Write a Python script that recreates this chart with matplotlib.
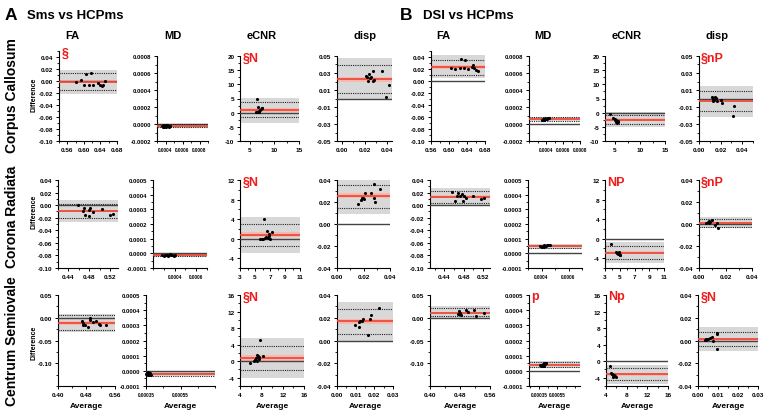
import matplotlib.pyplot as plt
from matplotlib.ticker import FormatStrFormatter, AutoMinorLocator

plt.rcParams['font.family'] = ['Liberation Sans', 'DejaVu Sans']

comparisons = ['Sms vs HCPms', 'DSI vs HCPms']
panel_letters = ['A', 'B']
regions = ['Corpus Callosum', 'Corona Radiata', 'Centrum Semiovale']
metrics = ['FA', 'MD', 'eCNR', 'disp']

# rows = region, cols = metric
bias_a = [[-0.001, -2.0e-5, 1.0, 0.0228],
          [-0.0094, -1.1e-5, 0.77, 0.0256],
          [-0.0119, -2.0e-5, 0.8, 0.0168]]
bias_ci_a = [[0.003, 4e-6, 0.75, 0.003],
             [0.002, 3e-6, 0.5, 0.0023],
             [0.0045, 3e-6, 0.7, 0.0022]]
loa_lo_a = [[-0.015, -3.8e-5, -1.7, 0.0068],
            [-0.0203, -2.0e-5, -1.54, 0.015],
            [-0.026, -3.1e-5, -2.16, 0.0061]]
loa_hi_a = [[0.0128, -4e-6, 3.7, 0.039],
            [0.0016, -3e-6, 3.0, 0.035],
            [0.0052, -1.1e-5, 3.76, 0.0278]]
band_lo_a = [[-0.022, -4.5e-5, -3.5, -0.0012],
             [-0.0265, -2.5e-5, -2.95, 0.0094],
             [-0.032, -3.6e-5, -4.0, 0.0]]
band_hi_a = [[0.019, 2e-6, 5.2, 0.0476],
             [0.0078, 2e-6, 4.4, 0.0406],
             [0.0089, -6e-6, 5.6, 0.0336]]

bias_b = [[0.0233, 6.0e-5, -2.5, -0.0028],
          [0.0135, 4.9e-5, -2.86, 0.0006],
          [0.011, 4.0e-5, -3.2, 0.0009]]
bias_ci_b = [[0.003, 6e-6, 0.6, 0.0016],
             [0.002, 4e-6, 0.35, 0.001],
             [0.0025, 4e-6, 0.4, 0.0012]]
loa_lo_b = [[0.0106, 4.1e-5, -4.05, -0.0148],
            [0.004, 3.5e-5, -4.14, -0.0025],
            [0.0037, 2.4e-5, -4.65, -0.0052]]
loa_hi_b = [[0.0356, 8.2e-5, -0.95, 0.0084],
            [0.0225, 6.0e-5, -1.57, 0.0048],
            [0.022, 5.6e-5, -1.55, 0.0078]]
band_lo_b = [[0.0056, 3.5e-5, -5.2, -0.022],
             [0.0, 2.8e-5, -5.0, -0.004],
             [0.0, 1.8e-5, -5.5, -0.009]]
band_hi_b = [[0.043, 8.8e-5, 0.24, 0.0148],
             [0.027, 6.5e-5, -0.71, 0.0063],
             [0.0256, 6.2e-5, -0.98, 0.0116]]

# Sms vs HCPms, Corpus Callosum
a_cc_fa_x = [0.581, 0.593, 0.600, 0.605, 0.613, 0.617, 0.623, 0.635, 0.639, 0.643, 0.646, 0.652]
a_cc_fa_y = [-0.001, 0.001, -0.007, 0.011, -0.006, 0.013, -0.006, -0.003, -0.007, -0.009, -0.007, 0.000]
a_cc_md_x = [0.00036, 0.00037, 0.00038, 0.00039, 0.0004, 0.00041, 0.00042, 0.00043, 0.00044, 0.00045, 0.00038, 0.00041]
a_cc_md_y = [-2e-5, -3e-5, -1e-5, -2e-5, -3e-5, -2e-5, -1e-5, -2e-5, -3e-5, -2e-5, -4e-5, -1e-5]
a_cc_ecnr_x = [6.4, 6.3, 6.5, 6.6, 6.7, 6.8, 6.9, 7.0, 7.2, 7.4, 7.5, 6.5]
a_cc_ecnr_y = [4.9, 0.3, 0.4, 2.0, 0.2, 0.5, 0.3, 0.9, 1.2, 1.6, 1.8, 0.1]
a_cc_disp_x = [0.0215, 0.023, 0.0236, 0.0245, 0.0254, 0.027, 0.0274, 0.035, 0.028, 0.041, 0.039, 0.022]
a_cc_disp_y = [0.0264, 0.0208, 0.0288, 0.0236, 0.0248, 0.021, 0.0324, 0.0324, 0.0216, 0.0156, 0.0016, 0.025]

# Sms vs HCPms, Corona Radiata
a_cr_fa_x = [0.458, 0.467, 0.470, 0.472, 0.480, 0.481, 0.480, 0.487, 0.505, 0.520, 0.525]
a_cr_fa_y = [0.0, -0.0094, -0.0047, -0.015, -0.0073, -0.0047, -0.0166, -0.011, -0.006, -0.015, -0.014]
a_cr_md_x = [0.00028, 0.0003, 0.00031, 0.00032, 0.00033, 0.00034, 0.00035, 0.00036, 0.00037, 0.00038, 0.00039, 0.0004]
a_cr_md_y = [-1.2e-5, -1.5e-5, -0.8e-5, -1.4e-5, -1.0e-5, -1.6e-5, -1.2e-5, -0.7e-5, -1.3e-5, -1.1e-5, -1.5e-5, -0.9e-5]
a_cr_ecnr_x = [5.7, 5.9, 6.1, 6.3, 6.5, 6.6, 6.7, 6.8, 6.9, 7.0, 7.3, 6.2]
a_cr_ecnr_y = [0.0, 0.0, 0.0, 0.1, 0.3, 1.6, 0.2, 0.5, 1.0, 0.0, 1.3, 4.1]
a_cr_disp_x = [0.0157, 0.0179, 0.019, 0.0199, 0.0207, 0.0212, 0.0254, 0.0276, 0.0281, 0.029, 0.0323]
a_cr_disp_y = [0.0184, 0.0219, 0.0234, 0.024, 0.0225, 0.028, 0.028, 0.036, 0.024, 0.0197, 0.032]

# Sms vs HCPms, Centrum Semiovale
a_cs_fa_x = [0.466, 0.471, 0.475, 0.485, 0.489, 0.491, 0.497, 0.508, 0.516, 0.518, 0.536, 0.470]
a_cs_fa_y = [-0.008, -0.0149, -0.017, -0.0208, -0.0045, -0.0007, -0.0097, -0.008, -0.0134, -0.017, -0.0156, -0.012]
a_cs_md_x = [0.00035, 0.000355, 0.00036, 0.000365, 0.00037, 0.000375, 0.00038, 0.00036, 0.00037, 0.000365]
a_cs_md_y = [-2e-5, -1.5e-5, -2.5e-5, -2e-5, -3e-5, -1.5e-5, -2.5e-5, -1e-5, -2e-5, -3e-5]
a_cs_ecnr_x = [5.9, 6.56, 6.8, 7.0, 7.2, 7.3, 7.5, 7.6, 7.8, 8.4, 6.9, 7.1]
a_cs_ecnr_y = [-0.4, 0.0, 0.4, 0.8, 0.0, 1.2, 0.64, 1.04, 5.2, 1.36, 0.2, 1.5]
a_cs_disp_x = [0.0096, 0.0116, 0.012, 0.0125, 0.0134, 0.0141, 0.0164, 0.0177, 0.0182, 0.0223]
a_cs_disp_y = [0.0133, 0.0159, 0.0119, 0.0168, 0.0174, 0.0188, 0.0052, 0.0188, 0.0226, 0.0284]

# DSI vs HCPms, Corpus Callosum
b_cc_fa_x = [0.604, 0.613, 0.624, 0.627, 0.636, 0.633, 0.643, 0.654, 0.656, 0.661, 0.664, 0.650]
b_cc_fa_y = [0.021, 0.020, 0.022, 0.0367, 0.0344, 0.022, 0.020, 0.0267, 0.022, 0.018, 0.017, 0.024]
b_cc_md_x = [0.00035, 0.00036, 0.00037, 0.00038, 0.00039, 0.0004, 0.00041, 0.00042, 0.00043, 0.00038, 0.0004]
b_cc_md_y = [5e-5, 6e-5, 5e-5, 6e-5, 7e-5, 6e-5, 6e-5, 7e-5, 7e-5, 5e-5, 6e-5]
b_cc_ecnr_x = [4.0, 4.5, 4.9, 5.1, 5.3, 5.5, 5.4, 5.0, 5.2, 5.6]
b_cc_ecnr_y = [-0.4, -1.9, -2.3, -2.6, -3.1, -2.9, -3.5, -2.5, -3.3, -3.2]
b_cc_disp_x = [0.0117, 0.0133, 0.0142, 0.0145, 0.0155, 0.0164, 0.020, 0.021, 0.0324, 0.0318, 0.0125]
b_cc_disp_y = [0.0012, -0.0008, -0.0016, 0.0012, 0.0004, -0.0028, -0.0016, -0.0056, -0.0088, -0.020, -0.0028]

# DSI vs HCPms, Corona Radiata
b_cr_fa_x = [0.455, 0.462, 0.466, 0.469, 0.473, 0.477, 0.478, 0.48, 0.484, 0.499, 0.516, 0.522]
b_cr_fa_y = [0.021, 0.0068, 0.014, 0.0197, 0.014, 0.017, 0.0068, 0.015, 0.0113, 0.014, 0.010, 0.0113]
b_cr_md_x = [0.00039, 0.0004, 0.00041, 0.00042, 0.00043, 0.00044, 0.00045, 0.00046, 0.0004, 0.00042]
b_cr_md_y = [5e-5, 4.5e-5, 5e-5, 5.5e-5, 5e-5, 6e-5, 5.5e-5, 6e-5, 4e-5, 4.5e-5]
b_cr_ecnr_x = [3.76, 4.48, 4.66, 4.8, 4.93, 5.0, 4.7, 4.85, 4.6, 5.05]
b_cr_ecnr_y = [-1.07, -2.64, -2.86, -3.0, -3.2, -3.4, -3.2, -2.8, -2.9, -3.3]
b_cr_disp_x = [0.0052, 0.0065, 0.0077, 0.0085, 0.0098, 0.0124, 0.0137, 0.0147, 0.0072]
b_cr_disp_y = [0.0006, 0.0016, 0.0025, 0.0016, 0.0032, -0.0006, 0.001, -0.0032, 0.0012]

# DSI vs HCPms, Centrum Semiovale
b_cs_fa_x = [0.474, 0.478, 0.483, 0.480, 0.496, 0.500, 0.516, 0.523, 0.545, 0.476]
b_cs_fa_y = [0.008, 0.0154, 0.0059, 0.011, 0.0168, 0.0117, 0.0168, 0.0037, 0.0095, 0.009]
b_cs_md_x = [0.00036, 0.00037, 0.00038, 0.00039, 0.0004, 0.00041, 0.00042, 0.00043, 0.00038, 0.0004]
b_cs_md_y = [4e-5, 3.5e-5, 4e-5, 4.5e-5, 4e-5, 5e-5, 4.5e-5, 5e-5, 3e-5, 3.5e-5]
b_cs_ecnr_x = [4.76, 4.95, 5.2, 5.5, 5.7, 5.9, 5.3, 5.1, 5.6, 5.4]
b_cs_ecnr_y = [-1.14, -2.86, -3.0, -3.3, -3.6, -3.84, -3.8, -3.1, -3.5, -3.3]
b_cs_disp_x = [0.0034, 0.0042, 0.0051, 0.0059, 0.0068, 0.0075, 0.0093, 0.0097, 0.0093, 0.0038]
b_cs_disp_y = [0.0006, 0.0012, 0.0012, 0.002, 0.0029, -0.0003, 0.007, 0.0055, -0.0075, 0.0003]

# red significance labels
marks_a = [['§', '', '§N', ''], ['', '', '§N', ''], ['', '', '§N', '']]
marks_b = [['', '', '', '§nP'], ['', '', 'NP', '§nP'], ['', 'p', 'Np', '§N']]

points = {
    'A': [[(a_cc_fa_x, a_cc_fa_y), (a_cc_md_x, a_cc_md_y), (a_cc_ecnr_x, a_cc_ecnr_y), (a_cc_disp_x, a_cc_disp_y)],
          [(a_cr_fa_x, a_cr_fa_y), (a_cr_md_x, a_cr_md_y), (a_cr_ecnr_x, a_cr_ecnr_y), (a_cr_disp_x, a_cr_disp_y)],
          [(a_cs_fa_x, a_cs_fa_y), (a_cs_md_x, a_cs_md_y), (a_cs_ecnr_x, a_cs_ecnr_y), (a_cs_disp_x, a_cs_disp_y)]],
    'B': [[(b_cc_fa_x, b_cc_fa_y), (b_cc_md_x, b_cc_md_y), (b_cc_ecnr_x, b_cc_ecnr_y), (b_cc_disp_x, b_cc_disp_y)],
          [(b_cr_fa_x, b_cr_fa_y), (b_cr_md_x, b_cr_md_y), (b_cr_ecnr_x, b_cr_ecnr_y), (b_cr_disp_x, b_cr_disp_y)],
          [(b_cs_fa_x, b_cs_fa_y), (b_cs_md_x, b_cs_md_y), (b_cs_ecnr_x, b_cs_ecnr_y), (b_cs_disp_x, b_cs_disp_y)]],
}
stats = {'A': (bias_a, bias_ci_a, loa_lo_a, loa_hi_a, band_lo_a, band_hi_a, marks_a),
         'B': (bias_b, bias_ci_b, loa_lo_b, loa_hi_b, band_lo_b, band_hi_b, marks_b)}

# axis ranges: rows = region, 8 columns (A then B)
xlims = [[(0.54, 0.68), (0.0003, 0.0009), (3, 15), (-0.004, 0.044),
          (0.56, 0.68), (0.0002, 0.0008), (3, 15), (0, 0.05)],
         [(0.42, 0.535), (0.0002, 0.0007), (3, 11), (0, 0.04),
          (0.41, 0.535), (0.0003, 0.0007), (3, 11), (0, 0.04)],
         [(0.40, 0.56), (0.00035, 0.00075), (4, 16), (0, 0.03),
          (0.40, 0.56), (0.00024, 0.0008), (4, 16), (0, 0.03)]]
xticks = [[[0.56, 0.60, 0.64, 0.68], [0.0004, 0.0006, 0.0008], [5, 10, 15], [0, 0.02, 0.04]],
          [[0.44, 0.48, 0.52], [0.0004, 0.0006], [3, 5, 7, 9, 11], [0, 0.02, 0.04]],
          [[0.40, 0.48, 0.56], [0.00035, 0.00055], [4, 8, 12, 16], [0, 0.01, 0.02, 0.03]]]
ylims = [[(-0.10, 0.05), (-0.0002, 0.0008), (-10, 20), (-0.05, 0.05)],
         [(-0.10, 0.04), (-0.0001, 0.0005), (-6, 12), (-0.04, 0.04)],
         [(-0.15, 0.05), (-0.0001, 0.0005), (-6, 16), (-0.04, 0.04)]]
yticks = [[[-0.10, -0.08, -0.06, -0.04, -0.02, 0.0, 0.02, 0.04],
           [-0.0002, 0.0, 0.0002, 0.0004, 0.0006, 0.0008],
           [-10, -5, 0, 5, 10, 15, 20],
           [-0.05, -0.03, -0.01, 0.01, 0.03, 0.05]],
          [[-0.10, -0.08, -0.06, -0.04, -0.02, 0.0, 0.02, 0.04],
           [-0.0001, 0.0, 0.0001, 0.0002, 0.0003, 0.0004, 0.0005],
           [-4, 0, 4, 8, 12],
           [-0.04, -0.02, 0.0, 0.02, 0.04]],
          [[-0.10, -0.05, 0.0, 0.05],
           [-0.0001, 0.0, 0.0001, 0.0002, 0.0003, 0.0004, 0.0005],
           [-4, 0, 4, 8, 12, 16],
           [-0.04, -0.02, 0.0, 0.02, 0.04]]]
xfmt = [['%.2f', '%.4f', '%d', '%.2f'], ['%.2f', '%.4f', '%d', '%.2f'], ['%.2f', '%.5f', '%d', '%.2f']]
yfmt = ['%.2f', '%.4f', '%d', '%.2f']

# panel boxes in pixels
lefts = [[59, 157, 240, 337, 431, 529, 605, 699],
         [58, 153, 240, 337, 430, 528, 605, 699],
         [58, 146, 240, 337, 430, 529, 606, 698]]
rights = [[117, 208, 299, 392, 485, 580, 665, 753],
          [118, 207, 300, 390, 490, 582, 664, 752],
          [115, 215, 304, 393, 490, 580, 668, 758]]
tops = [[52, 57, 57, 57, 52, 57, 57, 57],
        [181] * 8,
        [296] * 8]
bottoms = [142, 269, 387]
header_x = [72, 173, 262, 365, 443, 543, 627, 717]
label_y = [96, 217, 341]
diff_y = [95, 212, 343]

W, H = 767, 414
fig = plt.figure(figsize=(W / 100, H / 100), dpi=100)


def box(l, r, t, b):
    return [l / W, 1 - b / H, (r - l) / W, (b - t) / H]


for ci, key in enumerate(panel_letters):
    bias, bias_ci, loa_lo, loa_hi, band_lo, band_hi, marks = stats[key]
    for ri in range(3):
        for mi in range(4):
            col = ci * 4 + mi
            ax = fig.add_axes(box(lefts[ri][col], rights[ri][col], tops[ri][col], bottoms[ri]))
            px, py = points[key][ri][mi]

            ax.axhspan(band_lo[ri][mi], band_hi[ri][mi], color='#d8d8d8', lw=0, zorder=1)
            ax.axhspan(bias[ri][mi] - bias_ci[ri][mi], bias[ri][mi] + bias_ci[ri][mi],
                       color='#f6b9ad', lw=0, zorder=2)
            ax.axhline(0, color='#444444', lw=1.0, zorder=3)
            ax.axhline(loa_lo[ri][mi], color='#222222', lw=0.8, ls=(0, (1, 1)), zorder=4)
            ax.axhline(loa_hi[ri][mi], color='#222222', lw=0.8, ls=(0, (1, 1)), zorder=4)
            ax.axhline(bias[ri][mi], color='#ee4b3c', lw=1.3, zorder=5)
            ax.scatter(px, py, s=5, color='black', zorder=6, clip_on=False, lw=0)

            ax.set_xlim(xlims[ri][col])
            ax.set_ylim(ylims[ri][mi])
            ax.set_xticks(xticks[ri][mi])
            ax.set_yticks(yticks[ri][mi])
            ax.xaxis.set_major_formatter(FormatStrFormatter(xfmt[ri][mi]))
            ax.yaxis.set_major_formatter(FormatStrFormatter(yfmt[mi]))
            ax.xaxis.set_minor_locator(AutoMinorLocator(2))
            ax.yaxis.set_minor_locator(AutoMinorLocator(2))
            for s in ['top', 'right']:
                ax.spines[s].set_visible(False)
            for s in ['left', 'bottom']:
                ax.spines[s].set_linewidth(0.8)
            ax.tick_params(which='major', length=2.5, width=0.7, labelsize=4.6, pad=1.5)
            ax.tick_params(which='minor', length=1.5, width=0.6)
            if mi == 1:
                ax.tick_params(axis='x', labelsize=3.3)
                ax.tick_params(axis='y', labelsize=4.2)
            for lab in ax.get_xticklabels() + ax.get_yticklabels():
                lab.set_fontweight('bold')

            if marks[ri][mi]:
                ax.text(0.04, 1.05, marks[ri][mi], transform=ax.transAxes, color='#ee1c1c',
                        fontsize=9, fontweight='bold', va='top', ha='left')

            if ri == 2:
                fig.text((lefts[ri][col] + rights[ri][col]) / 2 / W, 1 - 407 / H, 'Average',
                         fontsize=6, fontweight='bold', ha='center', va='center')

    for mi in range(4):
        fig.text(header_x[ci * 4 + mi] / W, 1 - 36 / H, metrics[mi],
                 fontsize=8, fontweight='bold', ha='center', va='center')

for ri in range(3):
    fig.text(12 / W, 1 - label_y[ri] / H, regions[ri], rotation=90,
             fontsize=10, fontweight='bold', ha='center', va='center')
    fig.text(34 / W, 1 - diff_y[ri] / H, 'Difference', rotation=90,
             fontsize=5, fontweight='bold', ha='center', va='center')

fig.text(5 / W, 1 - 16 / H, 'A', fontsize=12.5, fontweight='bold', va='center')
fig.text(27 / W, 1 - 16 / H, comparisons[0], fontsize=9.5, fontweight='bold', va='center')
fig.text(400 / W, 1 - 16 / H, 'B', fontsize=12.5, fontweight='bold', va='center')
fig.text(423 / W, 1 - 16 / H, comparisons[1], fontsize=9.5, fontweight='bold', va='center')

fig.savefig('out.png', dpi=100)
